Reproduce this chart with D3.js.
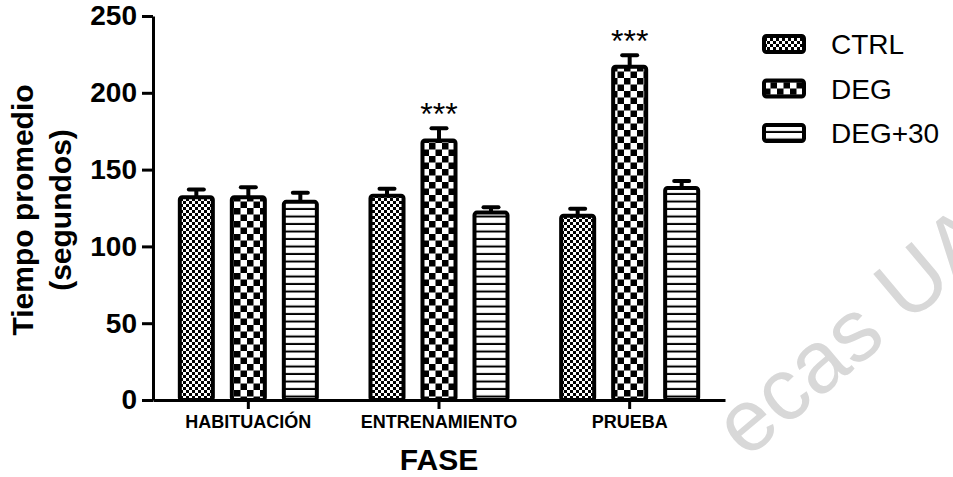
<!DOCTYPE html>
<html>
<head>
<meta charset="utf-8">
<script src="https://cdn.jsdelivr.net/npm/d3@7"></script>
<style>
  html, body { margin: 0; padding: 0; background: #fff; }
  svg { display: block; }
  text { font-family: "Liberation Sans", Arial, sans-serif; }
</style>
</head>
<body>
<svg id="chart" width="953" height="477"></svg>
<script>
// Phases on the x axis
const categories = ["HABITUACIÓN", "ENTRENAMIENTO", "PRUEBA"];
// Groups
const seriesNames = ["CTRL", "DEG", "DEG+30"];
// Mean time (s) per phase and SEM
const ctrlMean  = [132, 133, 120];
const ctrlSem   = [5, 4.5, 4.5];
const degMean   = [132, 169, 217];
const degSem    = [6.5, 8, 7.5];
const deg30Mean = [129, 122, 138];
const deg30Sem  = [6, 3.5, 4.5];
// Significance marks over the DEG bars
const degStars  = ["", "***", "***"];
const yTicks = [0, 50, 100, 150, 200, 250];

const means = [ctrlMean, degMean, deg30Mean];
const sems  = [ctrlSem, degSem, deg30Sem];
const rows = [];
seriesNames.forEach((s, si) => categories.forEach((c, ci) => {
  rows.push({ series: s, cat: c, mean: means[si][ci], sem: sems[si][ci],
              stars: s === "DEG" ? degStars[ci] : "" });
}));

const svg = d3.select("#chart");

// Fill patterns
const defs = svg.append("defs");
const fine = defs.append("pattern").attr("id", "pat-ctrl")
  .attr("patternUnits", "userSpaceOnUse").attr("width", 6).attr("height", 6);
fine.append("rect").attr("width", 6).attr("height", 6).attr("fill", "#fff");
fine.append("rect").attr("width", 3).attr("height", 3).attr("fill", "#000");
fine.append("rect").attr("x", 3).attr("y", 3).attr("width", 3).attr("height", 3).attr("fill", "#000");

const coarse = defs.append("pattern").attr("id", "pat-deg")
  .attr("patternUnits", "userSpaceOnUse").attr("width", 13).attr("height", 13);
coarse.append("rect").attr("width", 13).attr("height", 13).attr("fill", "#fff");
coarse.append("rect").attr("width", 6.5).attr("height", 6.5).attr("fill", "#000");
coarse.append("rect").attr("x", 6.5).attr("y", 6.5).attr("width", 6.5).attr("height", 6.5).attr("fill", "#000");

const stripes = defs.append("pattern").attr("id", "pat-deg30")
  .attr("patternUnits", "userSpaceOnUse").attr("width", 10).attr("height", 7.5);
stripes.append("rect").attr("width", 10).attr("height", 7.5).attr("fill", "#fff");
stripes.append("rect").attr("y", 5.5).attr("width", 10).attr("height", 2).attr("fill", "#000");

const fillFor = d3.scaleOrdinal().domain(seriesNames)
  .range(["url(#pat-ctrl)", "url(#pat-deg)", "url(#pat-deg30)"]);

// Faint library stamp across the lower right (drawn first, behind the chart)
svg.append("text").attr("transform", "translate(746,460) rotate(-40)")
  .attr("font-size", 88).attr("fill", "#d8d8d8")
  .text("ecas UA");

// Scales
const x = d3.scaleBand().domain(categories).range([153, 725]).padding(0);
const xInner = d3.scaleBand().domain(seriesNames).range([-78, 78])
  .paddingInner(0.288).paddingOuter(0.144);
const y = d3.scaleLinear().domain([0, 250]).range([400, 16]);

const cx = d => x(d.cat) + x.bandwidth() / 2 + xInner(d.series) + xInner.bandwidth() / 2;
const sw = 4;

// Bars
svg.append("g").selectAll("rect").data(rows).join("rect")
  .attr("x", d => x(d.cat) + x.bandwidth() / 2 + xInner(d.series) + sw / 2)
  .attr("width", xInner.bandwidth() - sw)
  .attr("y", d => y(d.mean))
  .attr("height", d => y(0) - y(d.mean))
  .attr("rx", 2.5)
  .attr("fill", d => fillFor(d.series))
  .attr("stroke", "#000").attr("stroke-width", sw);

// Error bars (upper only)
const eb = svg.append("g").attr("stroke", "#000").attr("stroke-width", 4);
eb.selectAll("line.stem").data(rows).join("line").attr("class", "stem")
  .attr("x1", cx).attr("x2", cx)
  .attr("y1", d => y(d.mean)).attr("y2", d => y(d.mean + d.sem));
eb.selectAll("line.cap").data(rows).join("line").attr("class", "cap")
  .attr("stroke-linecap", "round")
  .attr("x1", d => cx(d) - 7.5).attr("x2", d => cx(d) + 7.5)
  .attr("y1", d => y(d.mean + d.sem)).attr("y2", d => y(d.mean + d.sem));

// Significance
svg.append("g").selectAll("text").data(rows.filter(d => d.stars)).join("text")
  .attr("x", cx).attr("y", d => y(d.mean + d.sem) - 3)
  .attr("text-anchor", "middle").attr("font-size", 32)
  .text(d => d.stars);

// Y axis
const yAxis = svg.append("g").attr("transform", "translate(153,0)")
  .call(d3.axisLeft(y).tickValues(yTicks).tickSize(11).tickSizeOuter(0).tickPadding(5));
yAxis.select(".domain").attr("stroke-width", 3);
yAxis.selectAll(".tick line").attr("stroke-width", 3);
yAxis.selectAll(".tick text").attr("font-size", 28).attr("font-weight", "bold")
  .attr("font-family", "Liberation Sans, Arial, sans-serif").attr("fill", "#000");

// X axis
const xAxis = svg.append("g").attr("transform", "translate(0,400)")
  .call(d3.axisBottom(x).tickSize(9).tickSizeOuter(0).tickPadding(6));
xAxis.select(".domain").attr("stroke-width", 3);
xAxis.selectAll(".tick line").attr("stroke-width", 3);
xAxis.selectAll(".tick text").attr("font-size", 18).attr("font-weight", "bold")
  .attr("font-family", "Liberation Sans, Arial, sans-serif").attr("fill", "#000");

// Axis titles
const yTitle = svg.append("text").attr("transform", "translate(0,210) rotate(-90)")
  .attr("text-anchor", "middle").attr("font-size", 30).attr("font-weight", "bold");
yTitle.append("tspan").attr("x", 0).attr("y", 33).text("Tiempo promedio");
yTitle.append("tspan").attr("x", 0).attr("y", 71).text("(segundos)");

svg.append("text").attr("x", 439).attr("y", 470).attr("text-anchor", "middle")
  .attr("font-size", 30).attr("font-weight", "bold").text("FASE");

// Legend
const legend = svg.append("g").selectAll("g").data(seriesNames).join("g")
  .attr("transform", (d, i) => `translate(764,${44 + i * 44.5})`);
legend.append("rect").attr("x", 0).attr("y", -8).attr("width", 40).attr("height", 16)
  .attr("rx", 2.5).attr("fill", d => fillFor(d)).attr("stroke", "#000").attr("stroke-width", sw);
legend.append("text").attr("x", 67).attr("y", 0).attr("dy", "0.36em")
  .attr("font-size", 28).text(d => d);
</script>
</body>
</html>
